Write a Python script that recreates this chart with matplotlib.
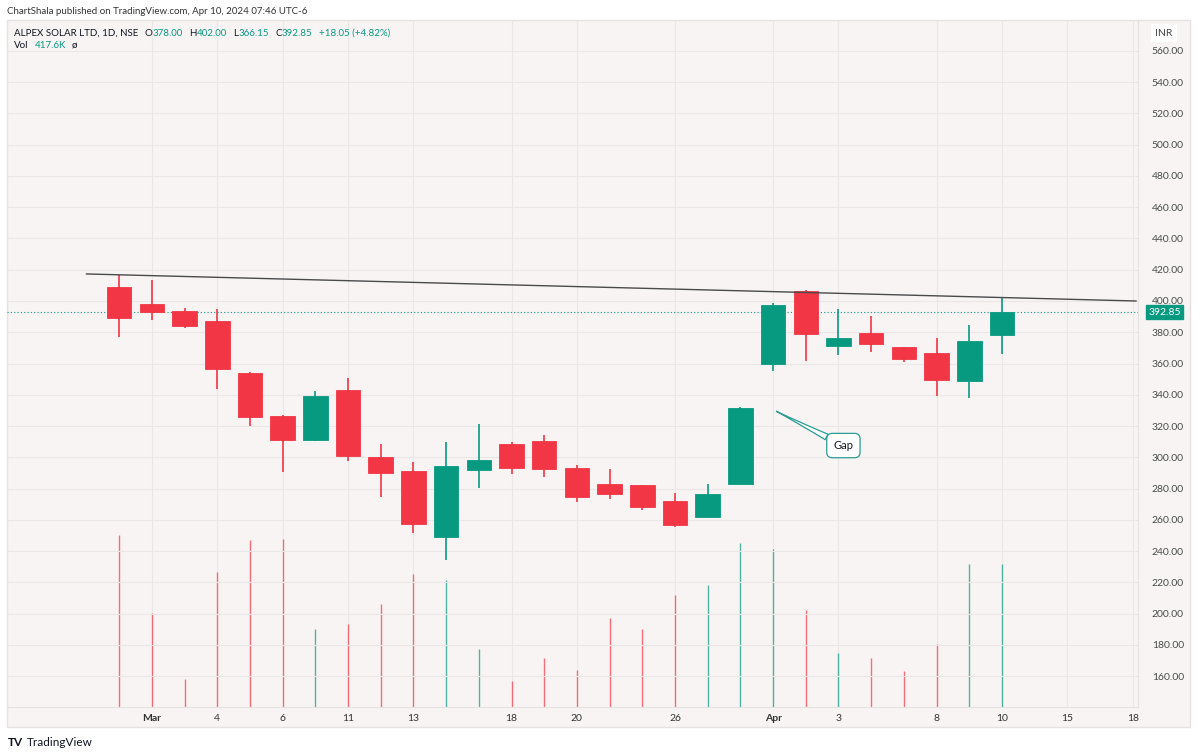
import matplotlib
matplotlib.use("Agg")
import matplotlib.pyplot as plt
import numpy as np

plt.rcParams['font.family'] = ['Lato', 'DejaVu Sans']

# daily candles, Feb 29 .. Apr 10 2024 (trading days only)
opens = [408.8, 397.9, 393.4, 387.4, 354.1, 326.4, 310.8, 342.8, 300.4, 291.4,
         248.9, 291.6, 308.3, 310.2, 292.9, 282.7, 282.2, 272.0, 262.0, 283.2,
         359.6, 406.4, 371.2, 379.7, 370.6, 366.7, 349.0, 378.0]
highs = [416.6, 413.4, 395.3, 394.7, 354.5, 327.0, 342.6, 350.7, 308.5, 296.8,
         309.6, 321.5, 309.8, 314.2, 295.0, 292.3, 282.5, 277.1, 283.1, 332.0,
         398.5, 407.0, 394.7, 390.6, 370.8, 376.5, 384.6, 402.0]
lows = [376.8, 387.6, 382.9, 343.5, 320.2, 290.8, 310.5, 297.4, 274.4, 251.3,
        234.2, 280.5, 289.3, 287.6, 271.4, 273.3, 266.2, 255.5, 261.5, 283.0,
        354.9, 361.6, 365.4, 367.6, 360.8, 339.4, 337.7, 366.15]
closes = [388.9, 392.8, 383.8, 356.5, 325.9, 310.8, 339.0, 301.0, 289.8, 257.5,
          294.2, 298.4, 293.3, 292.7, 274.6, 276.5, 267.9, 256.6, 276.3, 331.5,
          397.4, 378.7, 376.1, 372.5, 362.9, 349.2, 374.2, 392.85]
# volume in thousands
volumes = [503.8, 275.6, 83.2, 394.1, 488.2, 492.0, 229.4, 242.0, 300.9, 390.3,
           370.6, 170.6, 77.3, 142.0, 108.8, 259.7, 229.4, 327.3, 357.9, 480.3,
           462.6, 283.2, 157.9, 142.0, 105.0, 185.3, 418.5, 417.6]

# x axis labels (bar index -> label)
tick_pos = [1, 3, 5, 7, 9, 12, 14, 17, 20, 22, 25, 27, 29, 31]
tick_txt = ['Mar', '4', '6', '11', '13', '18', '20', '26', 'Apr', '3', '8', '10', '15', '18']
price_ticks = list(range(160, 561, 20))

# drawn trendline and gap note
trend_x = [-1.0, 31.1]
trend_y = [417.3, 400.0]
gap_point = (20.1, 329.4)
gap_text = (22.15, 307.5)

UP = '#089981'
DOWN = '#f23645'
BG = '#f8f4f4'
GRID = '#ece7e7'
W, H = 1200, 755

fig = plt.figure(figsize=(12, 7.55), dpi=100)
fig.patch.set_facecolor('white')

# whole pane frame (chart + price axis + time axis)
frame = plt.Rectangle((7 / W, 1 - 727 / H), (1190 - 7) / W, (727 - 20) / H,
                      transform=fig.transFigure, facecolor=BG, edgecolor='#e6e2e2',
                      lw=1, zorder=-5)
fig.patches.append(frame)

rect = [7 / W, 1 - 707 / H, (1138 - 7) / W, (707 - 20) / H]
axv = fig.add_axes(rect)
axp = fig.add_axes(rect, sharex=axv)
axv.set_zorder(1)
axp.set_zorder(2)
axp.patch.set_visible(False)
axv.patch.set_visible(False)

x = np.arange(len(opens))
colors = [UP if c >= o else DOWN for o, c in zip(opens, closes)]

# ticks (shared x)
axp.set_xticks(tick_pos)
axp.set_xticklabels(tick_txt)
axp.set_yticks(price_ticks)
axp.set_yticklabels([f'{v:.2f}' for v in price_ticks])

# volume + vertical grid underneath it
axv.grid(True, axis='x', color=GRID, lw=0.8)
axv.set_axisbelow(True)
axv.vlines(x, 0, volumes, colors=colors, lw=1, alpha=0.7, zorder=2)
axv.set_ylim(0, 2010)
axv.set_yticks([])
axv.tick_params(axis='x', length=0, labelbottom=False)
for s in axv.spines.values():
    s.set_visible(False)

# horizontal price grid
axp.grid(True, axis='y', color=GRID, lw=0.8, zorder=0)
axp.set_axisbelow(True)

# candles
body_lo = np.minimum(opens, closes)
body_h = np.abs(np.array(closes) - np.array(opens))
axp.vlines(x, lows, highs, colors=colors, lw=1.2, zorder=3)
axp.bar(x, body_h, bottom=body_lo, width=0.75, color=colors, edgecolor=colors,
        lw=0.6, zorder=4)

# trendline and last price line
axp.plot(trend_x, trend_y, color='#4a4a4a', lw=1, zorder=5)
axp.axhline(closes[-1], color=UP, lw=0.8, ls=(0, (1, 2)), zorder=2)

# gap callout
axp.annotate('Gap', xy=gap_point, xytext=gap_text, fontsize=8, color='#131722',
             ha='center', va='center', zorder=6,
             bbox=dict(boxstyle='round,pad=0.6,rounding_size=0.5', fc='white', ec='#2a9d93', lw=0.9),
             arrowprops=dict(arrowstyle='wedge,tail_width=0.55,shrink_factor=0.4',
                             fc='white', ec='#2a9d93', lw=0.9, shrinkA=0, shrinkB=0))

axp.set_xlim(-3.43, 31.16)
axp.set_ylim(140.2, 579.8)

axp.yaxis.tick_right()
axp.tick_params(axis='y', length=0, pad=10, labelsize=7.5, labelcolor='#4a4a4a')
axp.tick_params(axis='x', length=0, pad=5, labelsize=7.5, labelcolor='#333333')
for lab in axp.get_xticklabels():
    if lab.get_text() in ('Mar', 'Apr'):
        lab.set_fontweight('bold')
for side in ('top', 'left'):
    axp.spines[side].set_visible(False)
for side in ('right', 'bottom'):
    axp.spines[side].set_color('#e6e2e2')

# last price tag
axp.annotate(f'{closes[-1]:.2f}', xy=(1.0, closes[-1]), xycoords=('axes fraction', 'data'),
             xytext=(1.0 + 26.5 / 1131, closes[-1]), textcoords=('axes fraction', 'data'),
             ha='center', va='center', fontsize=7.5, color='white', annotation_clip=False,
             bbox=dict(boxstyle='square,pad=0.25', fc=UP, ec=UP))

# currency box
fig.text(1164 / W, 1 - 33 / H, 'INR', ha='center', va='center', fontsize=7.5, color='#4a4a4a',
         bbox=dict(boxstyle='square,pad=0.45', fc='white', ec='none'))

# header texts
fig.text(7 / W, 1 - 12 / H, 'ChartShala published on TradingView.com, Apr 10, 2024 07:46 UTC-6',
         fontsize=7, color='#333333', va='center')

renderer = fig.canvas.get_renderer()


def put_row(x0, y0, parts):
    # parts: (text, colour, gap in px after it)
    for s, c, gap in parts:
        t = fig.text(x0 / W, 1 - y0 / H, s, fontsize=7, color=c, va='center')
        x0 += t.get_window_extent(renderer=renderer).width + gap


DARK = '#131722'
put_row(14, 33, [('ALPEX SOLAR LTD, 1D, NSE', DARK, 6), ('O', DARK, 0.5), ('378.00', UP, 6),
                 ('H', DARK, 0.5), ('402.00', UP, 6), ('L', DARK, 0.5), ('366.15', UP, 6),
                 ('C', DARK, 0.5), ('392.85', UP, 6), ('+18.05 (+4.82%)', UP, 0)])
put_row(14, 46, [('Vol', DARK, 6), ('417.6K', UP, 6), ('ø', DARK, 0)])

# footer logo
fig.text(8 / W, 1 - 742 / H, 'TV', fontsize=8.5, fontweight='bold', color='#131722', va='center')
fig.text(27 / W, 1 - 742 / H, 'TradingView', fontsize=8.5, color='#131722', va='center')

fig.savefig('out.png', dpi=100, facecolor='white')
